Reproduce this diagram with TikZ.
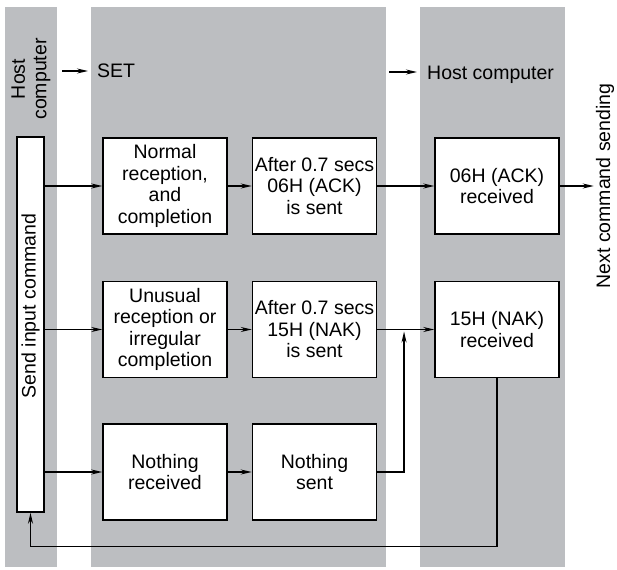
\documentclass[tikz,border=0pt]{standalone}
\usepackage{xcolor}
\usepackage{fontspec}
\setmainfont{Liberation Sans}
\usepackage{tikz}
\usetikzlibrary{positioning, arrows.meta, calc}

\definecolor{bandgray}{RGB}{188,190,193}

\begin{document}
\begin{tikzpicture}[
			x=1pt, y=-1pt,
			font=\fontsize{19.5pt}{21.5pt}\selectfont,
			box/.style={rectangle, draw, fill=white, line width=1.5pt, minimum width=124pt, minimum height=96pt, inner sep=0pt, align=center},
			sendbox/.style={rectangle, draw, fill=white, line width=1.5pt, minimum width=375pt, minimum height=27pt, inner sep=0pt, rotate=90},
			lbl/.style={inner sep=0pt, align=center},
			band/.style={fill=bandgray},
			arrow/.style={-{Stealth[length=11pt, width=5pt]}, line width=1.3pt}
			]
			\useasboundingbox (0,0) rectangle (617,569);
			% Columns
			\fill[band] (5,7) rectangle (57,567);
			\fill[band] (91,7) rectangle (386,567);
			\fill[band] (420,7) rectangle (565,567);
			
			% Headings
			\node (host) [lbl, rotate=90] at (31,79) {Host\\computer};
			\node (set) [lbl, anchor=base west] at (97,78) {SET};
			\node (hostrx) [lbl, anchor=base west] at (427,80) {Host computer};
			\node (next) [lbl, rotate=90] at (605,186) {Next command sending};
			\coordinate (setin) at (62,71);
			\coordinate (hostin) at (389,72);
			
			% Nodes
			\node (send) [sendbox] at (30.5,324.5) {\hspace*{37pt}Send input command};
			\node (norm) [box] at (165,186) {Normal\\reception,\\and\\completion};
			\node (ack) [box, right=24pt of norm] {After 0.7 secs\\06H (ACK)\\is sent};
			\node (ackrx) [box, right=57pt of ack] {06H (ACK)\\received};
			
			\node (unus) [box, below=46pt of norm] {Unusual\\reception or\\irregular\\completion};
			\node (nak) [box, right=24pt of unus] {After 0.7 secs\\15H (NAK)\\is sent};
			\node (nakrx) [box, right=57pt of nak] {15H (NAK)\\received};
			
			\node (none) [box, below=45pt of unus] {Nothing\\received};
			\node (nosent) [box, right=24pt of none] {Nothing\\sent};
			\coordinate (join) at ($(nak.east)!0.47!(nakrx.west)$);
			
			% Arrows
			\draw [arrow, shorten >=9pt] (setin) -- (setin -| set.west);
			\draw [arrow, shorten >=10pt] (hostin) -- (hostin -| hostrx.west);
			
			\draw [arrow] (norm.west -| send.south) -- (norm.west);
			\draw [arrow] (unus.west -| send.south) -- (unus.west);
			\draw [arrow] (none.west -| send.south) -- (none.west);
			
			\draw [arrow] (norm) -- (ack);
			\draw [arrow] (ack) -- (ackrx);
			\draw [arrow, shorten >=2pt] (ackrx.east) -- (ackrx.east -| next.north);
			
			\draw [arrow] (unus) -- (nak);
			\draw [arrow] (nak) -- (nakrx);
			
			\draw [arrow] (none) -- (nosent);
			\draw [arrow] (nosent.east) -| ([yshift=-2pt]join);
			
			\draw [arrow] (nakrx.south) -- ++(0,168) -| (send.west);
		\end{tikzpicture}
\end{document}
